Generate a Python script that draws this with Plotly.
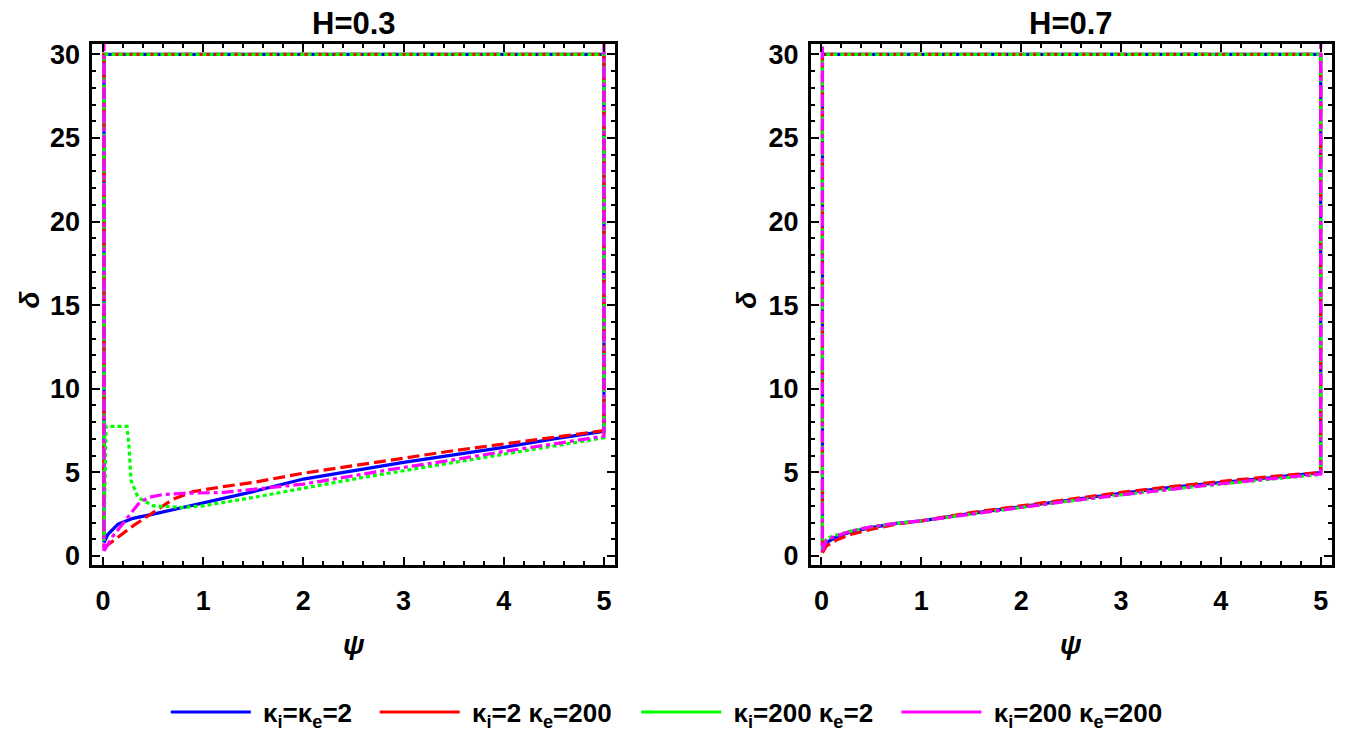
import plotly.graph_objects as go

FONT = "Liberation Sans, Arial, sans-serif"

# boundary of each closed curve
PSI_EDGE_LEFT = 0.01
PSI_EDGE_RIGHT = 5.0
DELTA_TOP = 30
DELTA_TOP_MAGENTA = 32

# ---------------- H = 0.3 (lower branches) ----------------
psi_h03_blue = [0.01, 0.05, 0.15, 0.3, 0.5, 0.8, 1.0, 1.5, 2.0, 2.5, 3.0, 3.5, 4.0, 4.5, 5.0]
delta_h03_blue = [0.8, 1.3, 1.9, 2.25, 2.5, 2.9, 3.15, 3.85, 4.6, 5.1, 5.6, 6.05, 6.5, 7.0, 7.45]

psi_h03_red = [0.01, 0.1, 0.3, 0.5, 0.7, 0.9, 1.2, 1.5, 2.0, 2.5, 3.0, 3.5, 4.0, 4.5, 5.0]
delta_h03_red = [0.5, 0.9, 1.8, 2.6, 3.4, 3.85, 4.15, 4.4, 4.95, 5.4, 5.85, 6.3, 6.7, 7.1, 7.5]

psi_h03_green = [0.01, 0.03, 0.24, 0.26, 0.28, 0.35, 0.5, 0.8, 1.0, 1.5, 2.0, 2.5, 3.0, 3.5, 4.0, 4.5, 5.0]
delta_h03_green = [0.9, 7.75, 7.75, 6.5, 4.5, 3.5, 3.0, 2.9, 3.0, 3.5, 4.05, 4.6, 5.1, 5.6, 6.1, 6.6, 7.07]

psi_h03_magenta = [0.01, 0.1, 0.22, 0.35, 0.45, 0.6, 0.8, 1.2, 1.6, 2.0, 2.5, 3.0, 3.5, 4.0, 4.5, 5.0]
delta_h03_magenta = [0.3, 1.2, 2.1, 3.1, 3.5, 3.68, 3.75, 3.8, 4.05, 4.3, 4.8, 5.3, 5.75, 6.25, 6.7, 7.17]

# ---------------- H = 0.7 (lower branches) ----------------
psi_h07_blue = [0.01, 0.05, 0.15, 0.3, 0.5, 0.75, 1.0, 1.5, 2.0, 2.5, 3.0, 3.5, 4.0, 4.5, 5.0]
delta_h07_blue = [0.3, 0.8, 1.15, 1.45, 1.7, 1.95, 2.1, 2.55, 2.95, 3.35, 3.75, 4.1, 4.4, 4.7, 4.98]

psi_h07_red = [0.01, 0.05, 0.15, 0.3, 0.5, 0.75, 1.0, 1.5, 2.0, 2.5, 3.0, 3.5, 4.0, 4.5, 5.0]
delta_h07_red = [0.2, 0.6, 0.95, 1.3, 1.6, 1.9, 2.1, 2.6, 3.0, 3.4, 3.8, 4.15, 4.45, 4.75, 5.0]

psi_h07_green = [0.01, 0.05, 0.15, 0.3, 0.5, 0.75, 1.0, 1.5, 2.0, 2.5, 3.0, 3.5, 4.0, 4.5, 5.0]
delta_h07_green = [0.4, 1.05, 1.25, 1.5, 1.75, 1.95, 2.1, 2.5, 2.9, 3.3, 3.65, 4.0, 4.3, 4.6, 4.88]

psi_h07_magenta = [0.01, 0.05, 0.15, 0.3, 0.5, 0.75, 1.0, 1.5, 2.0, 2.5, 3.0, 3.5, 4.0, 4.5, 5.0]
delta_h07_magenta = [0.3, 0.95, 1.2, 1.5, 1.75, 1.95, 2.1, 2.5, 2.9, 3.3, 3.65, 4.0, 4.32, 4.62, 4.9]

panel_titles = ["H=0.3", "H=0.7"]
series_names = ["κ<sub>i</sub>=κ<sub>e</sub>=2", "κ<sub>i</sub>=2 κ<sub>e</sub>=200",
                "κ<sub>i</sub>=200 κ<sub>e</sub>=2", "κ<sub>i</sub>=200 κ<sub>e</sub>=200"]
colors = ["#0000ff", "#ff0000", "#00ff00", "#ff00ff"]
dashes = ["solid", "12px,5px", "4px,3px", "12px,4px,4px,4px"]
tops = [DELTA_TOP, DELTA_TOP, DELTA_TOP, DELTA_TOP_MAGENTA]

panels = [
    [(psi_h03_blue, delta_h03_blue), (psi_h03_red, delta_h03_red),
     (psi_h03_green, delta_h03_green), (psi_h03_magenta, delta_h03_magenta)],
    [(psi_h07_blue, delta_h07_blue), (psi_h07_red, delta_h07_red),
     (psi_h07_green, delta_h07_green), (psi_h07_magenta, delta_h07_magenta)],
]


def closed_loop(psi, delta, top):
    xs = list(psi) + [PSI_EDGE_RIGHT, PSI_EDGE_RIGHT, PSI_EDGE_LEFT, PSI_EDGE_LEFT]
    ys = list(delta) + [delta[-1], top, top, delta[0]]
    return xs, ys


fig = go.Figure()
for p, series in enumerate(panels):
    xa = "x" if p == 0 else "x2"
    ya = "y" if p == 0 else "y2"
    for k, (psi, delta) in enumerate(series):
        xs, ys = closed_loop(psi, delta, tops[k])
        fig.add_trace(go.Scatter(x=xs, y=ys, mode="lines", xaxis=xa, yaxis=ya,
                                 line=dict(color=colors[k], width=3.2, dash=dashes[k]),
                                 showlegend=False, hoverinfo="skip"))

# legend entries (solid keys), each in its own legend box
legend_x = [0.123, 0.278, 0.472, 0.665]
for k in range(4):
    lg = "legend" if k == 0 else f"legend{k+1}"
    fig.add_trace(go.Scatter(x=[None], y=[None], mode="lines", name="\u00a0" + series_names[k],
                             line=dict(color=colors[k], width=3), legend=lg))

tick_font = dict(family=FONT, size=27, color="black", weight="bold")


def xaxis(domain, anchor):
    return dict(domain=domain, anchor=anchor, range=[-0.105, 5.11], showline=True, linewidth=3,
                linecolor="black", mirror="ticks", ticks="inside", ticklen=8, tickwidth=2,
                tickcolor="black", showgrid=False, zeroline=False, tickmode="linear", tick0=0, dtick=1,
                tickfont=tick_font, ticklabelstandoff=10, automargin=False,
                minor=dict(ticks="inside", ticklen=4, tickwidth=2, tickcolor="black", dtick=0.2,
                           showgrid=False))


def yaxis(anchor):
    return dict(domain=[0.2453, 0.9412], anchor=anchor, range=[-0.51, 30.62], showline=True, linewidth=3,
                linecolor="black", mirror="ticks", ticks="inside", ticklen=8, tickwidth=2,
                tickcolor="black", showgrid=False, zeroline=False, tickmode="linear", tick0=0, dtick=5,
                tickfont=tick_font, ticklabelstandoff=4, automargin=False,
                minor=dict(ticks="inside", ticklen=4, tickwidth=2, tickcolor="black", dtick=1,
                           showgrid=False))


legend_common = dict(orientation="h", y=0.048, yanchor="middle", xanchor="left", itemwidth=80,
                     font=dict(family=FONT, size=26, color="black", weight="bold"),
                     bgcolor="rgba(0,0,0,0)", borderwidth=0)

annotations = []
centers = [0.2624, 0.7948]
ylab_x = [0.022, 0.554]
for p in range(2):
    annotations.append(dict(text=f"<b>{panel_titles[p]}</b>", x=centers[p], y=0.968, xref="paper",
                            yref="paper", showarrow=False, xanchor="center", yanchor="middle",
                            font=dict(family=FONT, size=31, color="black")))
    annotations.append(dict(text="<b><i>ψ</i></b>", x=centers[p], y=0.138, xref="paper", yref="paper",
                            showarrow=False, xanchor="center", yanchor="middle",
                            font=dict(family=FONT, size=28, color="black")))
    annotations.append(dict(text="<b><i>δ</i></b>", x=ylab_x[p], y=0.599, xref="paper", yref="paper",
                            showarrow=False, xanchor="center", yanchor="middle", textangle=-90,
                            font=dict(family=FONT, size=28, color="black")))

layout = dict(width=1348, height=748, margin=dict(l=0, r=0, t=0, b=0),
              paper_bgcolor="white", plot_bgcolor="white",
              xaxis=xaxis([0.0686, 0.4562], "y"), yaxis=yaxis("x"),
              xaxis2=xaxis([0.6016, 0.9879], "y2"), yaxis2=yaxis("x2"),
              annotations=annotations)
layout["legend"] = dict(legend_common, x=legend_x[0])
for k in range(1, 4):
    layout[f"legend{k+1}"] = dict(legend_common, x=legend_x[k])
fig.update_layout(**layout)

fig.write_html("out.html")
